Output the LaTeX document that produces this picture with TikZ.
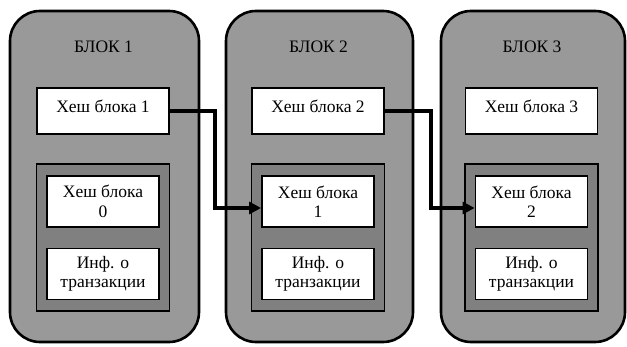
\documentclass[tikz,border=0pt]{standalone}
\usepackage{fontspec}
\setmainfont{Liberation Serif}
\usetikzlibrary{arrows.meta,calc}
\definecolor{blockgray}{HTML}{999999}
\definecolor{innergray}{HTML}{808080}
\begin{document}
\begin{tikzpicture}[x=1pt,y=-1pt,
  every node/.style={font=\fontsize{17.5}{19.5}\selectfont},
  blockbox/.style={draw=black, line width=2.6pt, fill=blockgray, rounded corners=30pt,
    minimum width=#1, minimum height=331pt, inner sep=0pt},
  hashbox/.style={draw=black, line width=1.8pt, fill=white, minimum width=132pt,
    minimum height=46pt, inner sep=0pt, text height=13pt, text depth=9pt},
  groupbox/.style={draw=black, line width=1.8pt, fill=innergray, minimum width=133pt,
    minimum height=147pt, inner sep=0pt},
  cellbox/.style={draw=black, line width=1.8pt, fill=white, minimum width=112pt,
    minimum height=51pt, inner sep=0pt, align=center},
  link/.style={line width=3.4pt, -{Triangle[length=12pt,width=12pt]}}]
\useasboundingbox (0,0) rectangle (627,347);
\foreach \i/\c/\w/\p in {1/104.5/189/0, 2/319.5/187/1, 3/533/184/2}{
  \node[blockbox=\w] (blk\i) at (\c,176.5) {};
  \node (ttl\i) at (\c-1,47) {БЛОК \i};
  \node[hashbox] (hash\i) at (\c-1.5,111) {Хеш блока \i};
  \node[groupbox] (grp\i) at (\c-1.5,237.5) {};
  \node[cellbox] (prev\i) at (\c-1.5,201.5) {Хеш блока\\\p};
  \node[cellbox] (info\i) at (\c-1.5,274) {Инф. о\\транзакции};
}
\coordinate (in2) at ($(prev2.west)+(0,6.5)$);
\coordinate (in3) at ($(prev3.west)+(0,6.5)$);
\draw[link] (hash1.east) -- ++(45,0) |- (in2);
\draw[link] (hash2.east) -- ++(46,0) |- (in3);
\end{tikzpicture}
\end{document}
